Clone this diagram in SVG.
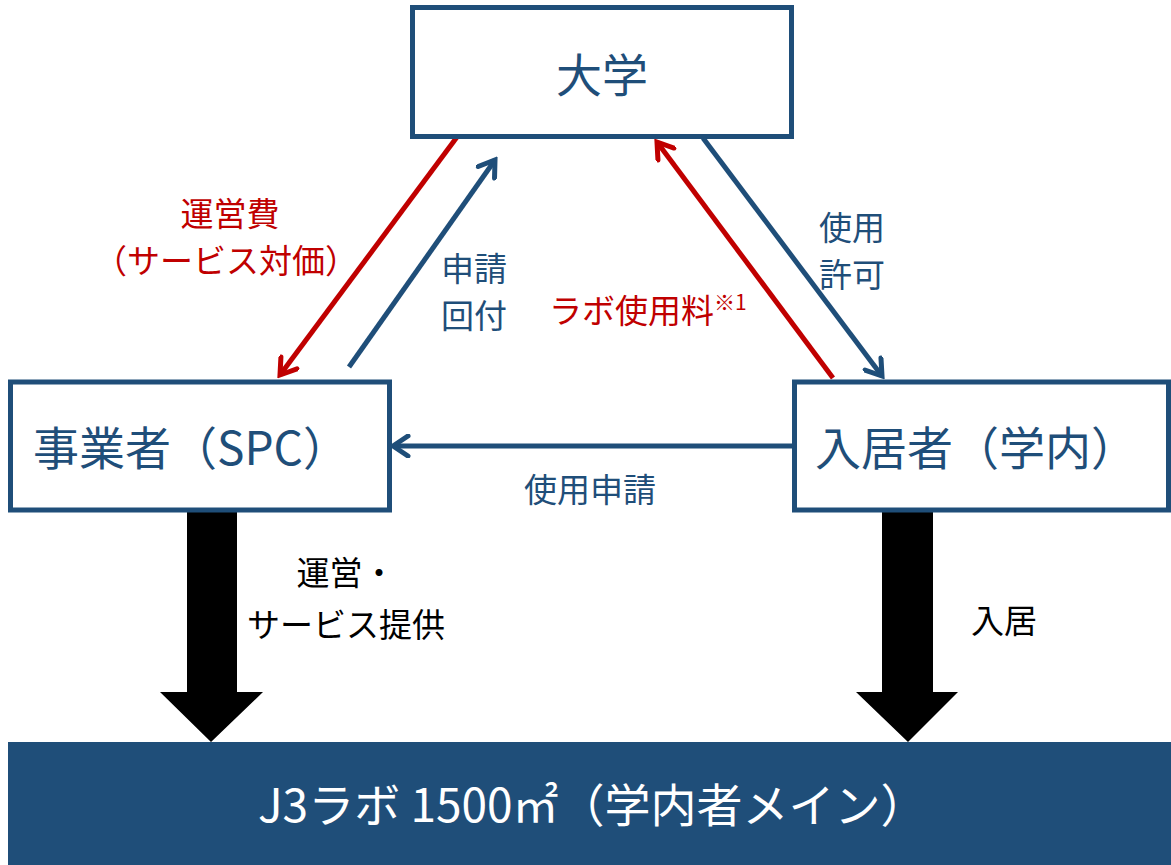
<svg xmlns="http://www.w3.org/2000/svg" width="1171" height="865" viewBox="0 0 1171 865">
<style>
.node{fill:#fff;stroke:#1F4E79;stroke-width:5}
.nt{font-family:"Noto Sans CJK JP","Noto Sans",sans-serif;font-size:46px;fill:#1F4E79}
.lb{font-family:"Noto Sans CJK JP","Noto Sans",sans-serif;font-size:33px}
.blue{fill:#1F4E79}
.red{fill:#C00000}
.blk{fill:#000}
.cb{stroke:#1F4E79;stroke-width:5;fill:none}
.cr{stroke:#C00000;stroke-width:5;fill:none}
</style>
<defs>
<marker id="ab" viewBox="0 0 24 24" markerWidth="24" markerHeight="24" refX="20" refY="12" orient="auto" markerUnits="userSpaceOnUse">
<path d="M5,2 L20,12 L5,22" fill="none" stroke="#1F4E79" stroke-width="5" stroke-linecap="round"/>
</marker>
<marker id="ar" viewBox="0 0 24 24" markerWidth="24" markerHeight="24" refX="20" refY="12" orient="auto" markerUnits="userSpaceOnUse">
<path d="M5,2 L20,12 L5,22" fill="none" stroke="#C00000" stroke-width="5" stroke-linecap="round"/>
</marker>
</defs>
<rect width="1171" height="865" fill="#fff"/>
<g id="connectors">
<line class="cr" x1="457" y1="137" x2="280" y2="375" marker-end="url(#ar)"/>
<line class="cb" x1="349" y1="367" x2="495" y2="160" marker-end="url(#ab)"/>
<line class="cr" x1="833" y1="378" x2="657" y2="142" marker-end="url(#ar)"/>
<line class="cb" x1="703" y1="138" x2="882" y2="376" marker-end="url(#ab)"/>
<line class="cb" x1="794" y1="446" x2="393" y2="446" marker-end="url(#ab)"/>
<polygon class="blk" points="187,512 237,512 237,692 263,692 211,742 160,692 187,692"/>
<polygon class="blk" points="882,512 933,512 933,692 958,692 908,742 856,692 882,692"/>
</g>
<g id="labels">
<text class="lb red" text-anchor="middle"><tspan x="230" y="226">運営費</tspan><tspan x="226" y="273">（サービス対価）</tspan></text>
<text class="lb blue"><tspan x="441" y="281">申請</tspan><tspan x="441" y="328">回付</tspan></text>
<text class="lb red" x="549" y="323" font-size="34">ラボ使用料<tspan font-size="21" dy="-13">※1</tspan></text>
<text class="lb blue"><tspan x="819" y="240">使用</tspan><tspan x="819" y="287">許可</tspan></text>
<text class="lb blue" x="590" y="502" text-anchor="middle" font-size="35">使用申請</text>
<text class="lb blk" text-anchor="middle" font-size="36"><tspan x="346" y="585">運営・</tspan><tspan x="346" y="637">サービス提供</tspan></text>
<text class="lb blk" x="971" y="633" font-size="40">入居</text>
</g>
<g id="n-daigaku">
<rect class="node" x="412.5" y="7.5" width="379" height="129"/>
<text class="nt" x="602" y="92" text-anchor="middle">大学</text>
</g>
<g id="n-spc">
<rect class="node" x="10.5" y="382" width="379" height="128"/>
<text class="nt" x="33" y="465">事業者（SPC）</text>
</g>
<g id="n-nyukyo">
<rect class="node" x="794.5" y="382" width="374" height="128"/>
<text class="nt" x="815" y="465">入居者（学内）</text>
</g>
<g id="n-j3">
<rect x="8" y="742" width="1163" height="123" fill="#1F4E79"/>
<text class="nt" x="258" y="822" font-size="42" style="fill:#fff">J3ラボ 1500㎡（学内者メイン）</text>
</g>
</svg>
